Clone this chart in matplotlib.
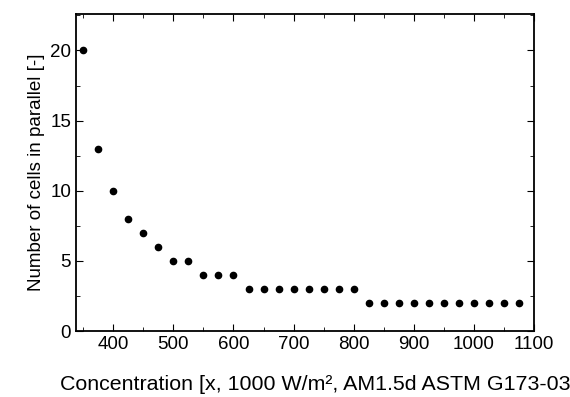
import matplotlib
matplotlib.use("Agg")
import matplotlib.pyplot as plt
from matplotlib.ticker import MultipleLocator

plt.rcParams['font.family'] = ['Liberation Sans', 'DejaVu Sans']

# concentration levels and number of parallel cells
conc = [350, 375, 400, 425, 450, 475, 500, 525, 550, 575, 600,
        625, 650, 675, 700, 725, 750, 775, 800,
        825, 850, 875, 900, 925, 950, 975, 1000, 1025, 1050, 1075]
n_par = [20, 13, 10, 8, 7, 6, 5, 5, 4, 4, 4,
         3, 3, 3, 3, 3, 3, 3, 3,
         2, 2, 2, 2, 2, 2, 2, 2, 2, 2, 2]

fig = plt.figure(figsize=(5.7, 3.97), dpi=100)
ax = fig.add_axes([76/570, 1 - 331/397, (534-76)/570, (331-14)/397])

ax.plot(conc, n_par, 'o', color='black', markersize=4.5)

ax.set_xlim(338, 1100)
ax.set_ylim(0, 22.6)
ax.xaxis.set_major_locator(MultipleLocator(100))
ax.xaxis.set_minor_locator(MultipleLocator(50))
ax.yaxis.set_major_locator(MultipleLocator(5))
ax.yaxis.set_minor_locator(MultipleLocator(2.5))
ax.tick_params(which='both', direction='in', top=True, right=True, labelsize=13.5)
ax.tick_params(which='major', length=5)
ax.tick_params(which='minor', length=3)
for s in ax.spines.values():
    s.set_linewidth(1.3)

ax.set_ylabel('Number of cells in parallel [-]', fontsize=13.5)
# label runs off the right edge, as in the original scan
fig.text(60/570, 1 - 385/397, 'Concentration [x, 1000 W/m², AM1.5d ASTM G173-03',
         fontsize=15.4, ha='left', va='center')

fig.savefig('out.png', dpi=100)
